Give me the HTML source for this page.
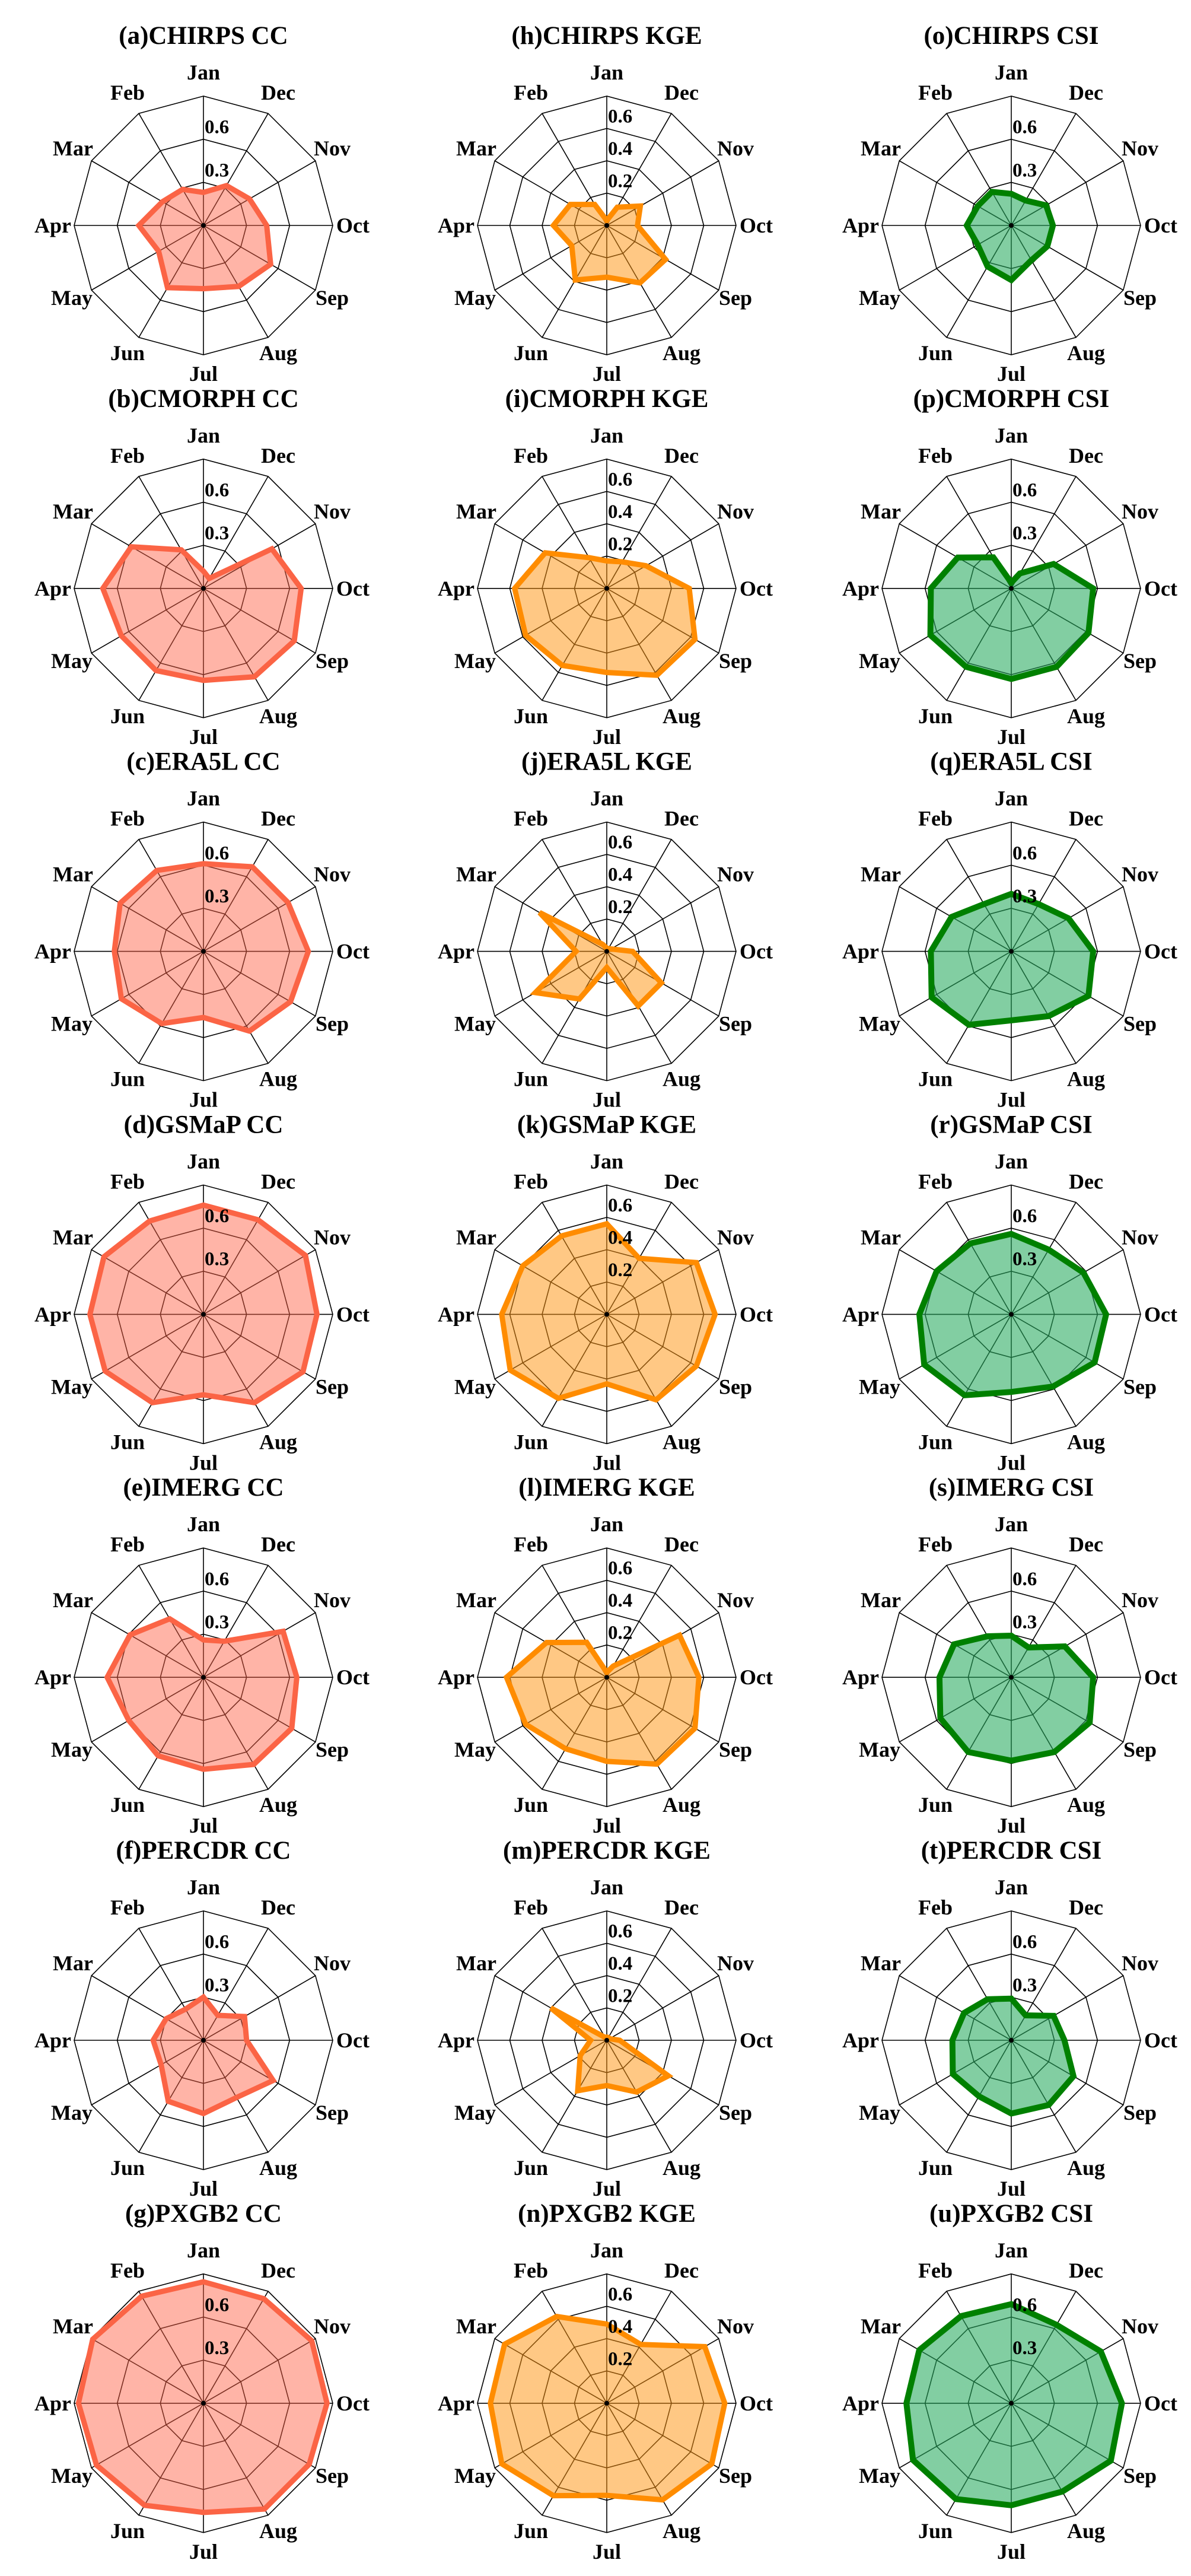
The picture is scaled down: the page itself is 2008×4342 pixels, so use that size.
<!DOCTYPE html>
<html>
<head>
<meta charset="utf-8">
<style>
html,body{margin:0;padding:0;background:#fff;}
svg{display:block;}
text{font-family:"Liberation Serif","DejaVu Serif",serif;font-weight:bold;fill:#000;}
</style>
</head>
<body>
<svg id="fig" width="2008" height="4342" viewBox="0 0 2008 4342" xmlns="http://www.w3.org/2000/svg">
<rect x="0" y="0" width="2008" height="4342" fill="#fff"/>
</svg>
<script>
// ---- data (months Jan..Dec) ----
const months = ["Jan","Feb","Mar","Apr","May","Jun","Jul","Aug","Sep","Oct","Nov","Dec"];
const ccTicks = ["0.3","0.6"];
const ccTickValues = [0.3,0.6];
const kgeTicks = ["0.2","0.4","0.6"];
const kgeTickValues = [0.2,0.4,0.6];
const ccMax = 0.9;
const kgeMax = 0.8;
const csiMax = 0.9;

const chirpsCC = [0.23,0.29,0.33,0.45,0.36,0.50,0.44,0.49,0.54,0.44,0.37,0.32];
const cmorphCC = [0.12,0.31,0.58,0.70,0.66,0.66,0.64,0.71,0.73,0.68,0.55,0.08];
const era5lCC  = [0.61,0.65,0.67,0.62,0.66,0.58,0.46,0.64,0.70,0.73,0.68,0.68];
const gsmapCC  = [0.76,0.75,0.80,0.79,0.79,0.71,0.56,0.71,0.80,0.79,0.82,0.76];
const imergCC  = [0.26,0.47,0.59,0.67,0.60,0.63,0.64,0.70,0.71,0.65,0.64,0.29];
const percdrCC = [0.30,0.25,0.30,0.35,0.34,0.49,0.51,0.46,0.56,0.30,0.33,0.20];
const pxgb2CC  = [0.845,0.86,0.89,0.87,0.86,0.82,0.76,0.85,0.85,0.86,0.87,0.84];

const chirpsKGE = [0.03,0.15,0.26,0.33,0.25,0.39,0.32,0.41,0.42,0.19,0.24,0.13];
const cmorphKGE = [0.17,0.22,0.44,0.57,0.58,0.55,0.52,0.62,0.63,0.51,0.28,0.19];
const era5lKGE  = [0.02,0.05,0.48,0.19,0.51,0.34,0.10,0.39,0.39,0.16,0.03,0.02];
const gsmapKGE  = [0.56,0.56,0.60,0.65,0.69,0.60,0.43,0.61,0.64,0.67,0.64,0.40];
const imergKGE  = [0.03,0.25,0.43,0.62,0.58,0.51,0.52,0.62,0.63,0.57,0.52,0.08];
const percdrKGE = [0.02,0.02,0.40,0.10,0.19,0.36,0.28,0.37,0.44,0.08,0.02,0.02];
const pxgb2KGE  = [0.49,0.62,0.73,0.72,0.75,0.66,0.57,0.69,0.75,0.73,0.70,0.42];

const chirpsCSI = [0.22,0.27,0.27,0.31,0.27,0.33,0.38,0.28,0.29,0.29,0.28,0.20];
const cmorphCSI = [0.04,0.25,0.43,0.56,0.65,0.63,0.63,0.63,0.62,0.57,0.34,0.12];
const era5lCSI  = [0.40,0.38,0.48,0.56,0.64,0.59,0.48,0.52,0.62,0.57,0.46,0.38];
const gsmapCSI  = [0.56,0.57,0.60,0.64,0.70,0.65,0.54,0.58,0.67,0.66,0.58,0.52];
const imergCSI  = [0.29,0.33,0.46,0.50,0.57,0.60,0.58,0.60,0.63,0.57,0.43,0.24];
const percdrCSI = [0.29,0.33,0.38,0.41,0.47,0.45,0.51,0.52,0.50,0.37,0.34,0.20];
const pxgb2CSI  = [0.69,0.70,0.74,0.73,0.79,0.77,0.71,0.71,0.80,0.77,0.72,0.63];

const ccTitles  = ["(a)CHIRPS CC","(b)CMORPH CC","(c)ERA5L CC","(d)GSMaP CC","(e)IMERG CC","(f)PERCDR CC","(g)PXGB2 CC"];
const kgeTitles = ["(h)CHIRPS KGE","(i)CMORPH KGE","(j)ERA5L KGE","(k)GSMaP KGE","(l)IMERG KGE","(m)PERCDR KGE","(n)PXGB2 KGE"];
const csiTitles = ["(o)CHIRPS CSI","(p)CMORPH CSI","(q)ERA5L CSI","(r)GSMaP CSI","(s)IMERG CSI","(t)PERCDR CSI","(u)PXGB2 CSI"];
const ccSeries  = [chirpsCC,cmorphCC,era5lCC,gsmapCC,imergCC,percdrCC,pxgb2CC];
const kgeSeries = [chirpsKGE,cmorphKGE,era5lKGE,gsmapKGE,imergKGE,percdrKGE,pxgb2KGE];
const csiSeries = [chirpsCSI,cmorphCSI,era5lCSI,gsmapCSI,imergCSI,percdrCSI,pxgb2CSI];

// ---- layout ----
const NS = "http://www.w3.org/2000/svg";
const svg = document.getElementById("fig");
const colX = [343, 1023, 1705];
const row0Y = 380, rowPitch = 611.8;
const R = 218;
const labelOff = [
  [0,-246,"middle"],[-128,-212,"middle"],[-220,-118,"middle"],[-223,12,"end"],
  [-222,134,"middle"],[-128,227,"middle"],[0,262,"middle"],[126,227,"middle"],
  [217,134,"middle"],[224,12,"start"],[217,-118,"middle"],[126,-212,"middle"]
];

function mk(tag, attrs, parent){
  const e = document.createElementNS(NS, tag);
  for (const k in attrs) e.setAttribute(k, attrs[k]);
  parent.appendChild(e);
  return e;
}
function pt(cx, cy, r, i){
  const a = i * Math.PI / 6;
  return [cx - r * Math.sin(a), cy - r * Math.cos(a)];
}

function drawRadar(cx, cy, title, values, vmax, tickVals, tickLabels, nRings, stroke, fill, sw, key){
  const g = mk("g", {}, svg);
  
  
  const scale = v => Math.max(0, v) / vmax * R;

  const t = mk("text", {x: cx, y: cy - 306, "text-anchor": "middle", "font-size": 43}, g);
  
  
  t.textContent = title;

  // rings
  for (let k = 1; k <= nRings; k++){
    const r = R * k / nRings;
    const pts = [];
    for (let i = 0; i < 12; i++) pts.push(pt(cx, cy, r, i).join(","));
    const ring = mk("polygon", {points: pts.join(" "), fill: "none", stroke: "#000", "stroke-width": 1.6}, g);
    
    
  }
  // spokes
  for (let i = 0; i < 12; i++){
    const p = pt(cx, cy, R, i);
    const sp = mk("line", {x1: cx, y1: cy, x2: p[0], y2: p[1], stroke: "#000", "stroke-width": 1.6}, g);
    
    
  }
  // series
  const sp = values.map((v, i) => pt(cx, cy, scale(v), i).map(n => n.toFixed(1)).join(","));
  const poly = mk("polygon", {points: sp.join(" "), fill: fill, stroke: stroke, "stroke-width": sw, "stroke-linejoin": "miter"}, g);
  
  

  // center dot
  const dot = mk("circle", {cx: cx, cy: cy, r: 4, fill: "#000"}, g);
  
  

  // tick labels
  for (let k = 0; k < tickVals.length; k++){
    const r = scale(tickVals[k]);
    const tl = mk("text", {x: cx + 2, y: cy - r - 10, "font-size": 33}, g);
    
    
    tl.textContent = tickLabels[k];
  }
  // month labels
  for (let i = 0; i < 12; i++){
    const o = labelOff[i];
    const ml = mk("text", {x: cx + o[0], y: cy + o[1], "text-anchor": o[2], "font-size": 36}, g);
    
    
    ml.textContent = months[i];
  }
}

for (let r = 0; r < 7; r++){
  const cy = row0Y + r * rowPitch;
  drawRadar(colX[0], cy, ccTitles[r], ccSeries[r], ccMax, ccTickValues, ccTicks, 3,
    "#fb6445", "rgba(255,99,71,0.48)", 9, "cc-" + r);
  drawRadar(colX[1], cy, kgeTitles[r], kgeSeries[r], kgeMax, kgeTickValues, kgeTicks, 4,
    "#ff8c00", "rgba(255,150,20,0.52)", 9, "kge-" + r);
  drawRadar(colX[2], cy, csiTitles[r], csiSeries[r], csiMax, ccTickValues, ccTicks, 3,
    "#008000", "rgba(40,170,95,0.58)", 10, "csi-" + r);
}
</script>
</body>
</html>
